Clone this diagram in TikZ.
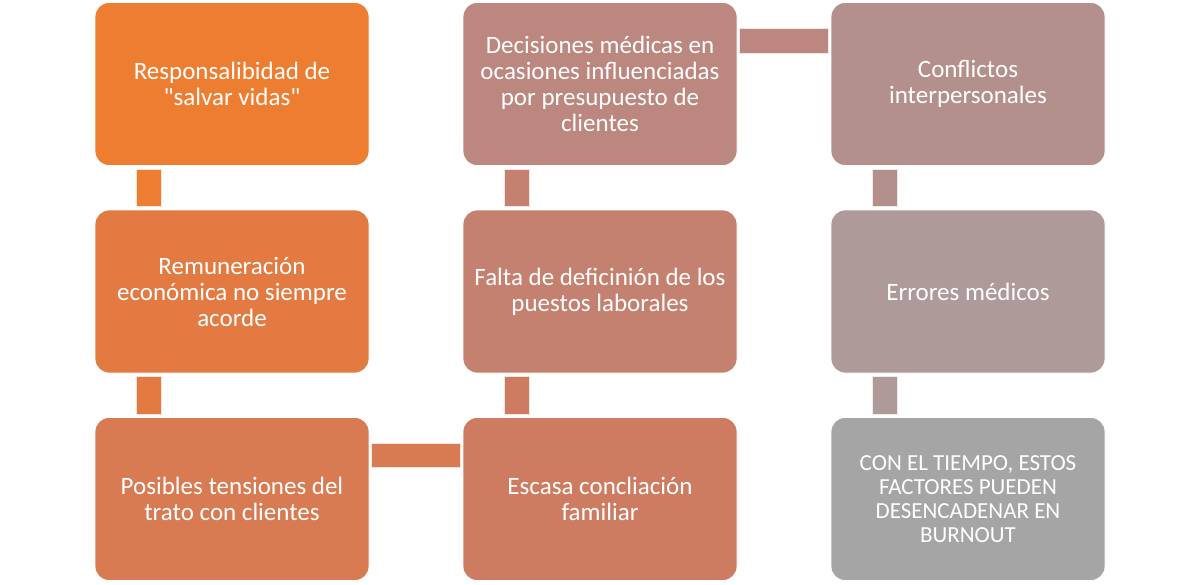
\documentclass[tikz,border=0pt]{standalone}
\usepackage{fontspec}
\setmainfont{Carlito}[Ligatures=TeXOff]
\definecolor{c1}{RGB}{237,125,49}
\definecolor{c2}{RGB}{226,122,65}
\definecolor{c3}{RGB}{216,122,82}
\definecolor{c4}{RGB}{206,124,97}
\definecolor{c5}{RGB}{197,129,112}
\definecolor{c6}{RGB}{188,135,126}
\definecolor{c7}{RGB}{180,144,140}
\definecolor{c8}{RGB}{173,154,153}
\definecolor{c9}{RGB}{165,165,165}
\tikzset{
  box/.style={draw=white, line width=0.8pt, rounded corners=14pt, minimum width=274pt, minimum height=163pt, inner sep=0pt, align=center, text=white, font=\fontsize{25}{26}\selectfont},
  link/.style={draw=white!80!#1, line width=0.6pt, fill=#1}
}
\begin{document}
\begin{tikzpicture}[x=1pt,y=-1pt]
\useasboundingbox (0,0) rectangle (1200,584);
\node[box, fill=c1] (b1) at (232,84) {Responsalibidad de\\"salvar vidas"};
\node[box, fill=c2] (b2) at (232,291.5) {Remuneración\\económica no siempre\\acorde};
\node[box, fill=c3] (b3) at (232,499) {Posibles tensiones del\\trato con clientes};
\node[box, fill=c4] (b4) at (600,499) {Escasa concliación\\familiar};
\node[box, fill=c5] (b5) at (600,291.5) {Falta de deficinión de los\\puestos laborales};
\node[box, fill=c6] (b6) at (600,84) {Decisiones médicas en\\ocasiones influenciadas\\por presupuesto de\\clientes};
\node[box, fill=c7] (b7) at (968,84) {Conflictos\\interpersonales};
\node[box, fill=c8] (b8) at (968,291.5) {Errores médicos};
\node[box, fill=c9, font=\fontsize{23}{24}\selectfont] (b9) at (968,499) {CON EL TIEMPO, ESTOS\\FACTORES PUEDEN\\DESENCADENAR EN\\BURNOUT};
% connectors
\path[link=c1] ([xshift=42pt,yshift=-3pt]b1.south west) rectangle ([xshift=67pt,yshift=3pt]b2.north west);
\path[link=c2] ([xshift=42pt,yshift=-3pt]b2.south west) rectangle ([xshift=67pt,yshift=3pt]b3.north west);
\path[link=c3] ([xshift=2pt,yshift=-26pt]b3.north east) rectangle ([xshift=-2pt,yshift=-50pt]b4.north west);
\path[link=c4] ([xshift=42pt,yshift=3pt]b4.north west) rectangle ([xshift=67pt,yshift=-3pt]b5.south west);
\path[link=c5] ([xshift=42pt,yshift=3pt]b5.north west) rectangle ([xshift=67pt,yshift=-3pt]b6.south west);
\path[link=c6] ([xshift=2pt,yshift=-26pt]b6.north east) rectangle ([xshift=-2pt,yshift=-51pt]b7.north west);
\path[link=c7] ([xshift=42pt,yshift=-3pt]b7.south west) rectangle ([xshift=67pt,yshift=3pt]b8.north west);
\path[link=c8] ([xshift=42pt,yshift=-3pt]b8.south west) rectangle ([xshift=67pt,yshift=3pt]b9.north west);
\end{tikzpicture}
\end{document}
